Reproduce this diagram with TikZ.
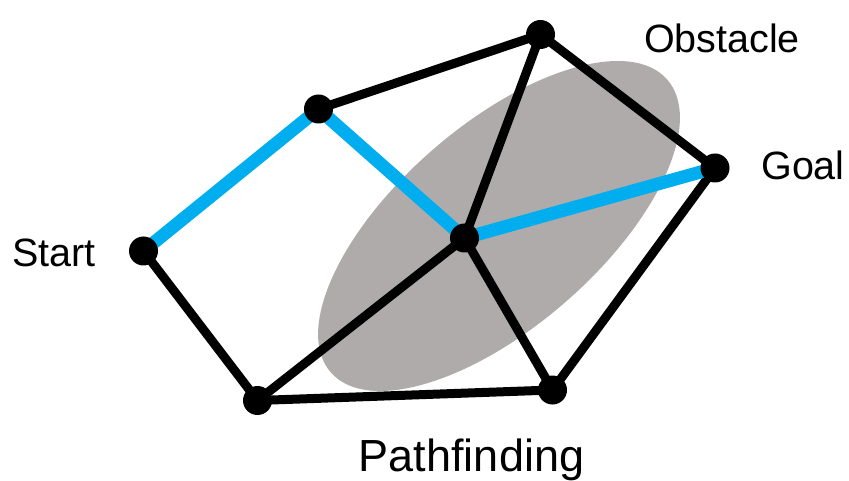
\documentclass[tikz,border=0pt]{standalone}
\usepackage{fontspec}
\setmainfont{Liberation Sans}
\definecolor{pathblue}{RGB}{0,174,239}
\definecolor{obstgray}{RGB}{174,171,170}
\begin{document}
\begin{tikzpicture}[x=1pt,y=-1pt,
  vtx/.style={circle,fill=black,inner sep=0pt,minimum size=29pt},
  edge/.style={line width=9pt,black},
  pathedge/.style={line width=13pt,pathblue},
  lbl/.style={inner sep=0pt,anchor=base,font=\fontsize{39.5}{41}\selectfont},
  title/.style={inner sep=0pt,anchor=base,font=\fontsize{45}{47}\selectfont}]
\useasboundingbox (0,0) rectangle (849,481);
\fill[obstgray,rotate around={41:(499,226)}] (499,226) ellipse [x radius=223pt, y radius=101pt];
\coordinate (s) at (143.5,251);
\coordinate (a) at (318.5,109);
\coordinate (b) at (540.5,34.5);
\coordinate (g) at (715,168);
\coordinate (c) at (464.5,238);
\coordinate (d) at (552.5,390);
\coordinate (e) at (257.5,400.5);
\draw[edge] (s) -- (e);
\draw[edge] (e) -- (d);
\draw[edge] (e) -- (c);
\draw[edge] (c) -- (b);
\draw[edge] (c) -- (d);
\draw[edge] (a) -- (b);
\draw[edge] (b) -- (g);
\draw[edge] (g) -- (d);
\draw[pathedge] (s) -- (a);
\draw[pathedge] (a) -- (c);
\draw[pathedge] (c) -- (g);
\node[vtx] (vs) at (s) {};
\node[vtx] (va) at (a) {};
\node[vtx] (vb) at (b) {};
\node[vtx] (vg) at (g) {};
\node[vtx] (vc) at (c) {};
\node[vtx] (vd) at (d) {};
\node[vtx] (ve) at (e) {};
\node[lbl] (tstart) at (54,266.5) {Start};
\node[lbl] (tgoal) at (803,180) {Goal};
\node[lbl] (tobst) at (722,53) {Obstacle};
\node[title] (tpath) at (471.5,471) {Pathfinding};
\end{tikzpicture}
\end{document}
